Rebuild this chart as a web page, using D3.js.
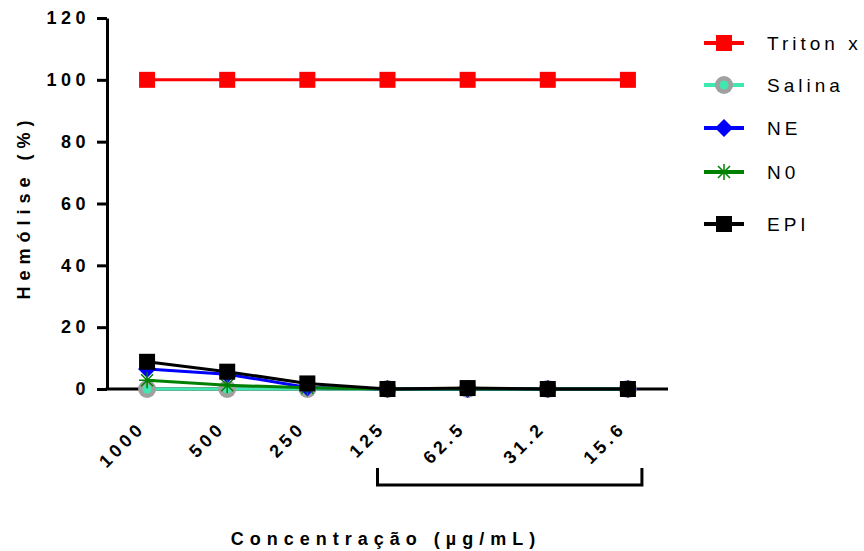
<!DOCTYPE html>
<html>
<head>
<meta charset="utf-8">
<style>
  body { margin: 0; background: #fff; }
  svg text { font-family: "Liberation Sans", Arial, sans-serif; }
</style>
</head>
<body>
<div id="viz"></div>
<script src="https://d3js.org/d3.v7.min.js"></script>
<script>
  // concentrations (ug/mL) and hemolysis (%) per group
  const concentrations = ["1000", "500", "250", "125", "62.5", "31.2", "15.6"];
  const yTicks = [0, 20, 40, 60, 80, 100, 120];
  const triton = [100, 100, 100, 100, 100, 100, 100];
  const salina = [0, 0, 0, 0, 0, 0, 0];
  const ne = [6.5, 4.8, 0.5, 0, 0, 0, 0];
  const n0 = [2.8, 1.2, 0.4, 0, 0, 0, 0];
  const epi = [8.8, 5.6, 1.8, 0, 0.3, 0, 0];

  const series = [
    {name: "Triton x", values: triton, color: "#ff0000", marker: "square"},
    {name: "Salina", values: salina, color: "#40e8b0", marker: "circle"},
    {name: "NE", values: ne, color: "#0000ff", marker: "diamond"},
    {name: "N0", values: n0, color: "#008000", marker: "star"},
    {name: "EPI", values: epi, color: "#000000", marker: "square"}
  ];

  const width = 864, height = 551;

  const svg = d3.select("#viz").append("svg")
      .attr("width", width)
      .attr("height", height);

  const x = d3.scalePoint()
      .domain(concentrations)
      .range([107, 668])
      .padding(0.5);

  const y = d3.scaleLinear()
      .domain([0, 120])
      .range([389, 18]);

  // y axis
  const yAxis = svg.append("g")
      .attr("transform", "translate(107,0)")
      .call(d3.axisLeft(y).tickValues(yTicks).tickSize(10).tickSizeOuter(0).tickPadding(7));
  yAxis.select(".domain").attr("stroke-width", 3);
  yAxis.selectAll(".tick line").attr("stroke-width", 3);
  yAxis.selectAll("text")
      .attr("font-size", 18)
      .attr("font-weight", "bold")
      .attr("letter-spacing", 4.5)
      .attr("fill", "#000");

  // x axis line
  svg.append("line")
      .attr("x1", 105.5).attr("x2", 668)
      .attr("y1", y(0)).attr("y2", y(0))
      .attr("stroke", "#000")
      .attr("stroke-width", 3);

  svg.selectAll(".xlabel")
      .data(concentrations)
    .enter().append("text")
      .attr("class", "xlabel")
      .attr("transform", d => "translate(" + (x(d) - 1) + ",429) rotate(-45)")
      .attr("text-anchor", "end")
      .attr("font-size", 18)
      .attr("font-weight", "bold")
      .attr("letter-spacing", 4)
      .text(d => d);

  // bracket under the lower concentrations
  svg.append("path")
      .attr("d", "M" + (x("125") - 10) + ",468V485H" + (x("15.6") + 14) + "V468")
      .attr("fill", "none")
      .attr("stroke", "#000")
      .attr("stroke-width", 3);

  // axis titles
  svg.append("text")
      .attr("transform", "translate(30,207) rotate(-90)")
      .attr("text-anchor", "middle")
      .attr("font-size", 18)
      .attr("font-weight", "bold")
      .attr("letter-spacing", 6)
      .text("Hemólise (%)");

  svg.append("text")
      .attr("x", 386)
      .attr("y", 545)
      .attr("text-anchor", "middle")
      .attr("font-size", 18)
      .attr("font-weight", "bold")
      .attr("letter-spacing", 6)
      .text("Concentração (µg/mL)");

  function drawMarker(g, type, color) {
    if (type === "square") {
      g.append("rect")
          .attr("x", -8).attr("y", -8)
          .attr("width", 16).attr("height", 16)
          .attr("fill", color);
    } else if (type === "circle") {
      g.append("circle").attr("r", 9).attr("fill", "#a0a0a0");
      g.append("circle").attr("r", 4.5).attr("fill", color);
    } else if (type === "diamond") {
      g.append("path")
          .attr("d", "M0,-9L9,0L0,9L-9,0Z")
          .attr("fill", color);
    } else if (type === "star") {
      g.append("path")
          .attr("d", "M-8,0H8M0,-8V8M-6,-6L6,6M-6,6L6,-6")
          .attr("stroke", color)
          .attr("stroke-width", 1.5);
    }
  }

  const line = d3.line()
      .x((d, i) => x(concentrations[i]))
      .y(d => y(d));

  series.forEach(s => {
    svg.append("path")
        .datum(s.values)
        .attr("d", line)
        .attr("fill", "none")
        .attr("stroke", s.color)
        .attr("stroke-width", 3);

    s.values.forEach((v, i) => {
      const g = svg.append("g")
          .attr("transform", "translate(" + x(concentrations[i]) + "," + y(v) + ")");
      drawMarker(g, s.marker, s.color);
    });
  });

  // legend
  const legendY = [43, 85, 128, 172, 224];
  series.forEach((s, i) => {
    const g = svg.append("g")
        .attr("transform", "translate(724," + legendY[i] + ")");
    g.append("line")
        .attr("x1", -20).attr("x2", 20)
        .attr("stroke", s.color)
        .attr("stroke-width", 4);
    drawMarker(g, s.marker, s.color);
    g.append("text")
        .attr("x", 43)
        .attr("y", 7)
        .attr("font-size", 19)
        .attr("letter-spacing", 4)
        .text(s.name);
  });
</script>
</body>
</html>
